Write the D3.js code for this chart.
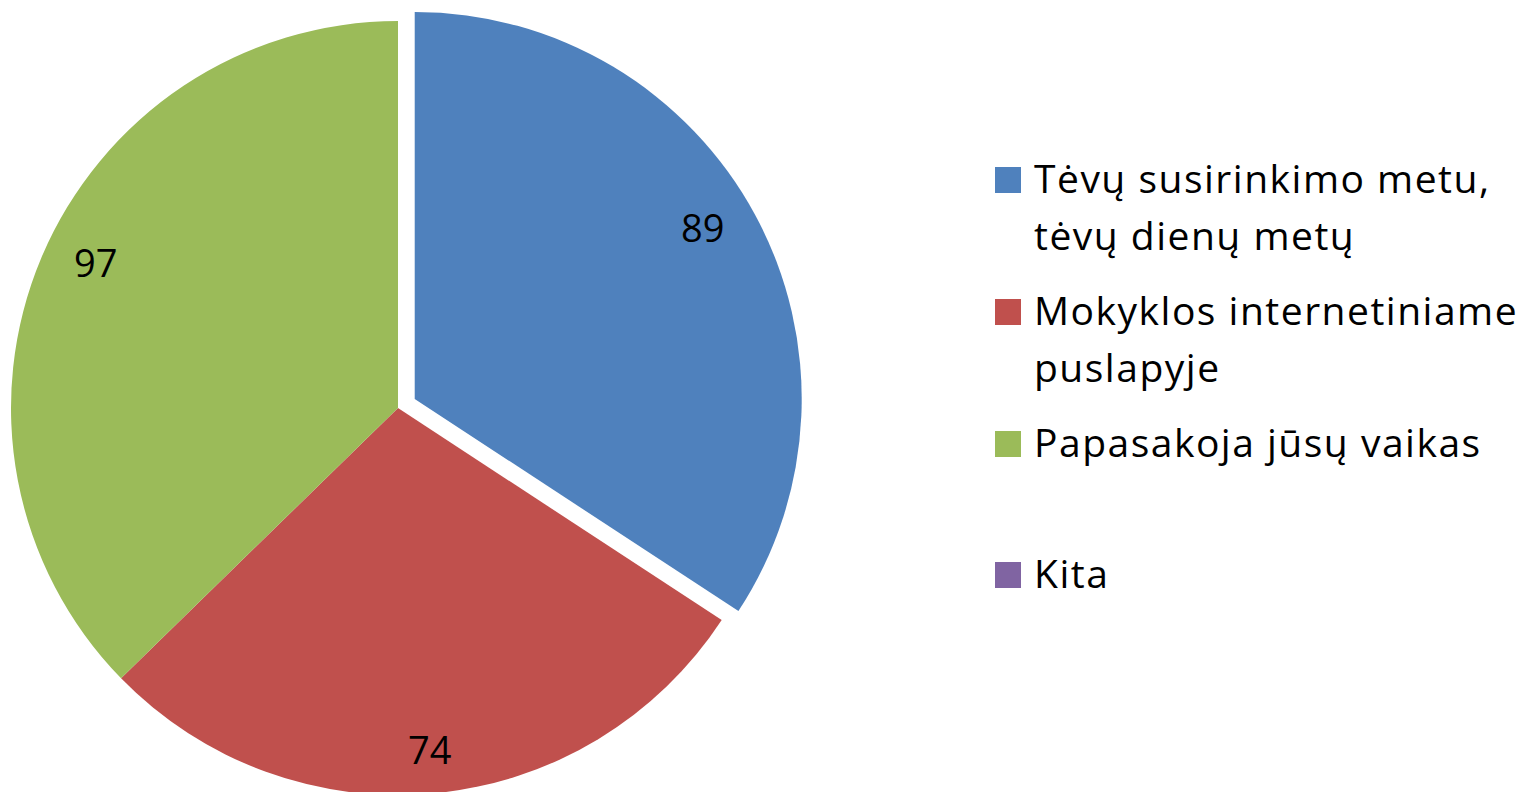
<!DOCTYPE html>
<html><head><meta charset="utf-8">
<script src="https://cdn.jsdelivr.net/npm/d3@7"></script>
<style>html,body{margin:0;padding:0;background:#fff;}svg{display:block;}</style>
</head><body>
<svg id="chart" width="1531" height="792"></svg>
<script>
const categories = ["Tėvų susirinkimo metu, tėvų dienų metų", "Mokyklos internetiniame puslapyje", "Papasakoja jūsų vaikas", "Kita"];
const legendLines = [["Tėvų susirinkimo metu,", "tėvų dienų metų"], ["Mokyklos internetiniame", "puslapyje"], ["Papasakoja jūsų vaikas"], ["Kita"]];
const values = [89, 74, 97, 0];
const colors = ["#4F81BD", "#C0504D", "#9BBB59", "#8064A2"];

// layout settings
const explode = [19, 0, 0, 0];
const labelNudge = [[-11, -9], [-1, 4], [11, -12], [0, 0]];

const svg = d3.select("#chart");
const font = "'Open Sans', sans-serif";
const fs = 38;
const legendFs = 39;
const cx = 398, cy = 408, r = 387, labelR = 340;

const pie = d3.pie().sort(null).value(d => d)(values);
const arc = d3.arc().innerRadius(0).outerRadius(r);
const labelArc = d3.arc().innerRadius(labelR).outerRadius(labelR);

const g = svg.append("g").attr("transform", `translate(${cx},${cy})`);
const slices = g.selectAll("g.slice").data(pie).enter().append("g")
  .attr("transform", (d, i) => {
    const a = (d.startAngle + d.endAngle) / 2;
    return `translate(${Math.sin(a) * explode[i]},${-Math.cos(a) * explode[i]})`;
  });
slices.filter(d => d.value > 0).append("path")
  .attr("d", arc).attr("fill", d => colors[d.index]);
slices.filter(d => d.value > 0).append("text")
  .attr("transform", d => {
    const c = labelArc.centroid(d);
    const n = labelNudge[d.index];
    return `translate(${c[0] + n[0]},${c[1] + n[1]})`;
  })
  .attr("text-anchor", "middle").attr("dy", "0.35em")
  .attr("font-family", font).attr("font-size", fs).attr("fill", "#000")
  .text(d => d.value);

// Legend
const lx = 995, box = 26, tx = 1034, lineH = 57;
const baselines = [193, 325, 457, 588];
legendLines.forEach((lines, i) => {
  const b = baselines[i];
  svg.append("rect").attr("x", lx).attr("y", b - 26).attr("width", box).attr("height", box).attr("fill", colors[i]);
  const t = svg.append("text").attr("x", tx).attr("y", b)
    .attr("font-family", font).attr("font-size", legendFs).attr("fill", "#000")
    .attr("letter-spacing", 1.5);
  lines.forEach((ln, j) => {
    t.append("tspan").attr("x", tx).attr("y", b + j * lineH).text(ln);
  });
});
</script>
</body></html>
